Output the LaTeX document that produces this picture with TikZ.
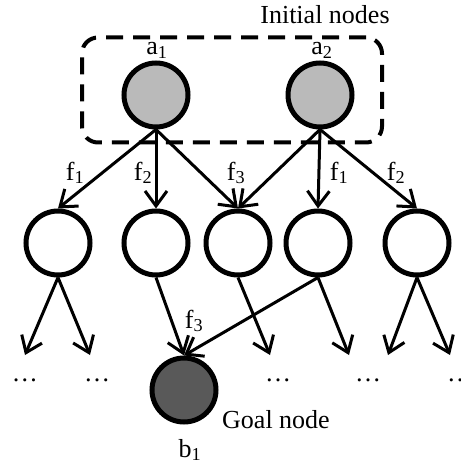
\documentclass[tikz,border=0pt]{standalone}
\usepackage{fontspec}
\setmainfont{Liberation Serif}
\usetikzlibrary{arrows.meta}
\begin{document}
\begin{tikzpicture}[x=1pt,y=-1pt,
  font=\fontsize{26}{30}\selectfont,
  state/.style={circle,draw=black,line width=5pt,minimum size=64pt,inner sep=0pt},
  initstate/.style={state,fill=black!27},
  goalstate/.style={state,fill=black!65},
  edge/.style={line width=3pt,-{Straight Barb[length=15pt,width=22pt,line width=3pt]}},
  lbl/.style={anchor=base,inner sep=0pt},
  group/.style={draw,line width=4pt,dash pattern=on 17pt off 10pt,rounded corners=16pt}]
\useasboundingbox (0,0) rectangle (460,465);

% group of initial states
\node[group,minimum width=300pt,minimum height=105pt] (box) at (232,90) {};
\node[lbl] (title) at (325,24) {Initial nodes};

% initial states
\node[initstate] (a1) at (156,95) {};
\node[initstate] (a2) at (320,95) {};
\node[lbl] (la1) at (157,55) {a\textsubscript{1}};
\node[lbl] (la2) at (322,55) {a\textsubscript{2}};

% successor states
\node[state] (s1) at (58,243) {};
\node[state] (s2) at (156,243) {};
\node[state] (s3) at (238,243) {};
\node[state] (s4) at (318,243) {};
\node[state] (s5) at (417,243) {};

% goal state
\node[goalstate] (b1) at (184,390) {};
\node[lbl] (lb1) at (190,457) {b\textsubscript{1}};
\node[lbl,anchor=base west] (goal) at (222,428) {Goal node};

% expansions of the initial states
\draw[edge] (a1.south) -- (s1.north);
\draw[edge] (a1.south) -- (s2.north);
\draw[edge] (a1.south) -- (s3.north);
\draw[edge] (a2.south) -- (s3.north);
\draw[edge] (a2.south) -- (s4.north);
\draw[edge] (a2.south) -- (s5.north);
\node[lbl] (f1a) at (75,180) {f\textsubscript{1}};
\node[lbl] (f2a) at (143,180) {f\textsubscript{2}};
\node[lbl] (f3a) at (236,180) {f\textsubscript{3}};
\node[lbl] (f1b) at (339,180) {f\textsubscript{1}};
\node[lbl] (f2b) at (396,180) {f\textsubscript{2}};

% further expansions
\coordinate (e1) at (25,355);
\coordinate (e2) at (90,355);
\coordinate (e3) at (270,355);
\coordinate (e4) at (349,355);
\coordinate (e5) at (388,355);
\coordinate (e6) at (450,355);
\draw[edge] (s1.south) -- (e1);
\draw[edge] (s1.south) -- (e2);
\draw[edge] (s2.south) -- (b1.north);
\draw[edge] (s3.south) -- (e3);
\draw[edge] (s4.south) -- (b1.north);
\draw[edge] (s4.south) -- (e4);
\draw[edge] (s5.south) -- (e5);
\draw[edge] (s5.south) -- (e6);
\node[lbl] (f3b) at (194,328) {f\textsubscript{3}};

% unexplored continuations
\node[lbl] (d1) at (25,381) {\dots};
\node[lbl] (d2) at (97,381) {\dots};
\node[lbl] (d3) at (278,381) {\dots};
\node[lbl] (d4) at (368,381) {\dots};
\node[lbl] (d5) at (460,381) {\dots};
\end{tikzpicture}
\end{document}
